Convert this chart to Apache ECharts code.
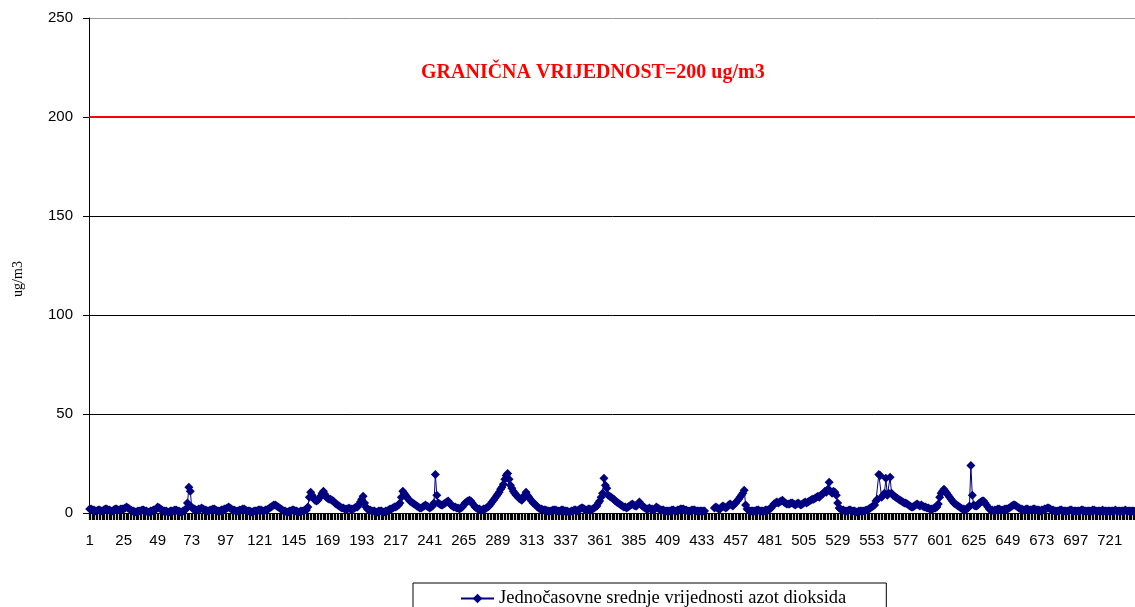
<!DOCTYPE html>
<html>
<head>
<meta charset="utf-8">
<script src="https://cdn.jsdelivr.net/npm/echarts@6/dist/echarts.min.js"></script>
<style>
html,body{margin:0;padding:0;background:#fff;}
#chart{width:1135px;height:607px;}
</style>
</head>
<body>
<div id="chart"></div>
<script>
// Hourly NO2 averages (ug/m3), one line per day (24 hours), 31 days = 744 hours
const hourlyNO2 = [
  2,2,1.5,1.5,1,1,1.5,1.5,1,1,1.5,2,2,1.5,1.5,1,1,1.5,2,2,1.5,1.5,2,2,
  2,2.5,3,2.5,2,1.5,1,1,0.5,0.5,1,1,1,1.5,1.5,1,1,0.5,0.5,1,1,1.5,1.5,2,
  3,2.5,2,1.5,1,1,1,0.5,0.5,1,1,1,1.5,1.5,1,1,0.5,0.5,1,1.5,2,5,13,11,
  3,2,2,1.5,1.5,2,2,2.5,2,1.5,1.5,1,1,1.5,1.5,2,2,1.5,1,1,1,1.5,1.5,2,
  2,2.5,3,2.5,2,1.5,1.5,1,1,1,1.5,1.5,2,2,1.5,1,1,1,0.5,0.5,1,1,1,1.5,
  1.5,1.5,1,1,1.5,1.5,2,2.5,3,3.5,4,4,3.5,3,2.5,2,1.5,1,1,0.5,0.5,1,1,1.5,
  1.5,1,1,0.5,0.5,1,1,1,1.5,1.5,3,8,10.5,9,7.5,6.5,6,6.5,7.5,8.5,10,11,9.5,8,
  7.5,7,7,6.5,6,5,4.5,4,3.5,3,2.5,2.5,2,2,2,2.5,2,2,2,2.5,3,3,4,5.5,
  7,8.5,5,3,2,1.5,1.5,1,1,1,0.5,0.5,1,1,1,0.5,0.5,1,1,1.5,2,2,2.5,3,
  3,3.5,4,5,8,11,10,9,8,7,6,5.5,5,4.5,4,3.5,3,2.5,2.5,3,3.5,4,3.5,3,
  2.5,3,3.5,5,19.5,9,5,4.5,4,4,4.5,5,5.5,6,5,4,3.5,3,3,2.5,2.5,2,2.5,3,
  4,5,5.5,6,6.5,6,5,4,3,2.5,2,2,1.5,1.5,2,2,2.5,3,3.5,4.5,5.5,6.5,7.5,8.5,
  9.5,10.5,12,13,14.5,17,19,20,17,14,12.5,11,10,9,8.5,7.5,7,6.5,7.5,9,10.5,9,8,7,
  6,5,4.5,4,3,2.5,2,2,1.5,1.5,1.5,1,1,1,1,1.5,1.5,1.5,1,1,1,1.5,1.5,1,
  1,1,0.5,0.5,1,1,1.5,1.5,1,1.5,2,2.5,2.5,2,1.5,1.5,2,2,1.5,2,2.5,3,3.5,5,
  6,8,10,17.5,14,12.5,9,8.5,8,7.5,7,6,5.5,5,4.5,4,3.5,3,3,2.5,3,3.5,4,4.5,
  4,3.5,3.5,4.5,5.5,4.5,3.5,3,2.5,2,2,2.5,2,2,1.5,2,3,2.5,2,1.5,1.5,1.5,1,1,
  1,1,1,1.5,1.5,1,1,1.5,1.5,2,2,2,1.5,1.5,1,1,1,1.5,1.5,1.5,1,1,1,1,
  1,1,1,null,null,null,null,null,null,2.5,3,2.5,2,2,3,3.5,3,2.5,3,4,4.5,4,3.5,4.5,
  5,6,7,8,9,10,11.5,4,2,1.5,1,1,1,1,1,1.5,1.5,1,1,1,1,1.5,1.5,1.5,
  2,2.5,3.5,4.5,5,5.5,5,5.5,6,6.5,5.5,5,4.5,4.5,4.5,5,5,4.5,4,4.5,5,4.5,4,4.5,
  5,5.5,5,5.5,6,6.5,7,7,7.5,8,8.5,8,9,9.5,10,11,10.5,12,15.5,11,10,11,10.5,9,
  5,2.5,2,1.5,1.5,1,1,1,1.5,1.5,1,1,1,0.5,0.5,1,1,1,1,1,1.5,1.5,2,2.5,
  3,3.5,4,6,7,19.5,19,8,9,10,17.5,9,10,18,10,9,8.5,8,7.5,7,6.5,6,5.5,5,
  5,4.5,4,3.5,3,3,3.5,4,4.5,4,3.5,4,3.5,3,3,2.5,2.5,2,2,2,2.5,2.5,3,4.5,
  8,10,11,12,11,10,9,8,7,6,5,4.5,4,3.5,3,2.5,2,2,1.5,2,2.5,3.5,24,9,
  4,3.5,3.5,4,5,5.5,6,6,5,4,3,2,1.5,1.5,1,1.5,1.5,2,2,1.5,1.5,1.5,2,2,
  2,2.5,3,3.5,4,4,3.5,3,2.5,2,2,1.5,1.5,2,2,1.5,1.5,1.5,2,2,1.5,1.5,1.5,1,
  1.5,1.5,2,2,2.5,2.5,2,1.5,1.5,1,1,1,1,1.5,1.5,1,1,1,1,1,1.5,1.5,1,1,
  1,1,1,1,1.5,1.5,1,1,1,1,1,1,1.5,1.5,1,1,1,1,1,1.5,1,1,1,1,
  1,1,1,1,1.5,1,1,1,1,1,1,1.5,1,1,1,1,1,1,1,1.5,1,1,1,1
];
// hour numbers 1..744 as category labels
const hours = hourlyNO2.map((_, i) => String(i + 1));
const yTicks = { min: 0, max: 250, interval: 50 };
const limitValue = 200;
const limitLabel = 'GRANIČNA VRIJEDNOST=200 ug/m3';
const seriesName = 'Jednočasovne srednje vrijednosti azot dioksida';
const yName = 'ug/m3';

const chart = echarts.init(document.getElementById('chart'), null, { renderer: 'canvas' });
chart.setOption({
  animation: false,
  backgroundColor: '#fff',
  grid: { left: 89, right: -8, top: 18, bottom: 94, outerBoundsMode: 'none', containLabel: false },
  xAxis: {
    type: 'category',
    data: hours,
    boundaryGap: true,
    axisLine: { lineStyle: { color: '#000', width: 1 } },
    axisTick: { show: true, interval: 0, length: 7, lineStyle: { color: '#000', width: 1.2 } },
    axisLabel: { interval: 23, margin: 20, fontSize: 15, fontFamily: 'Liberation Sans', color: '#000' },
    splitLine: { show: false }
  },
  yAxis: {
    type: 'value',
    min: yTicks.min, max: yTicks.max, interval: yTicks.interval,
    axisLine: { show: true, lineStyle: { color: '#000', width: 1 } },
    axisTick: { show: true, length: 6, lineStyle: { color: '#000' } },
    axisLabel: { margin: 16, fontSize: 15, fontFamily: 'Liberation Sans', color: '#000' },
    splitLine: { show: true, lineStyle: { color: ['#000', '#000', '#000', '#000', '#ff0000', '#999'], width: 1 } }
  },
  legend: {
    data: [seriesName],
    left: 413, top: 583,
    padding: [6, 40, 10, 47],
    itemWidth: 33, itemHeight: 12,
    borderColor: '#000', borderWidth: 1,
    textStyle: { fontFamily: 'Liberation Serif', fontSize: 18.5, color: '#000' }
  },
  graphic: [
    {
      type: 'text', left: 421, top: 63,
      style: { text: limitLabel, fill: '#ff0000', font: 'bold 20px "Liberation Serif"' }
    },
    {
      type: 'text', x: 18, y: 279, rotation: Math.PI / 2,
      style: { text: yName, fill: '#000', font: '14px "Liberation Serif"', align: 'center', verticalAlign: 'middle' }
    }
  ],
  series: [{
    name: seriesName,
    type: 'line',
    data: hourlyNO2,
    symbol: 'diamond',
    symbolSize: 9,
    showAllSymbol: true,
    connectNulls: false,
    itemStyle: { color: '#000080' },
    lineStyle: { color: '#000080', width: 1 },
    markLine: {
      silent: true, symbol: 'none',
      label: { show: false },
      lineStyle: { color: '#ff0000', width: 2, type: 'solid' },
      data: [{ yAxis: limitValue }]
    }
  }]
});
</script>
</body>
</html>
